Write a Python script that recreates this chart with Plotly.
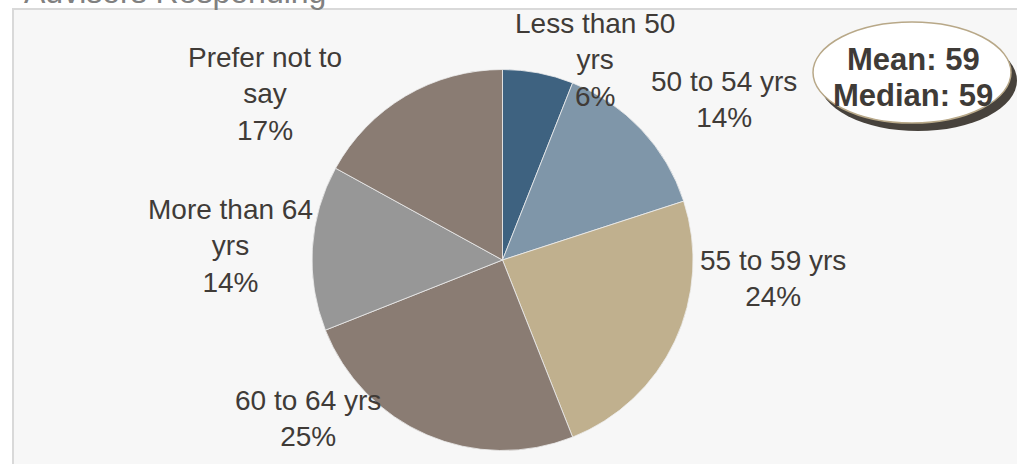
import textwrap
import plotly.graph_objects as go

# Age distribution of responding advisors
categories = ["Less than 50 yrs", "50 to 54 yrs", "55 to 59 yrs",
              "60 to 64 yrs", "More than 64 yrs", "Prefer not to say"]
percent = [6, 14, 24, 25, 14, 17]
colors = ["#3e6280", "#7f96a9", "#c0b08e", "#8a7c73", "#979797", "#8a7c73"]

title_text = "Advisors Responding"
summary_lines = ["Mean: 59", "Median: 59"]

W, H = 1017, 464


def px(x):
    return x / W


def py(y):
    return 1 - y / H


# pie geometry (pixels)
cx, cy, r = 502.5, 260.0, 190.5

# label anchor centres (pixels), one per category
label_pos = [(595, 60), (724, 99), (773, 278), (308, 418), (230, 246), (265, 94)]

fig = go.Figure()
fig.add_trace(go.Pie(
    labels=categories,
    values=percent,
    sort=False,
    direction="clockwise",
    rotation=0,
    marker=dict(colors=colors, line=dict(color="#eeeeee", width=0.8)),
    textinfo="none",
    hoverinfo="label+percent",
    showlegend=False,
    domain=dict(x=[px(cx - r), px(cx + r)], y=[py(cy + r), py(cy - r)]),
))

shapes = [
    # plot panel
    dict(type="rect", xref="paper", yref="paper", layer="below",
         x0=px(13), x1=px(1040), y0=py(490), y1=py(9),
         fillcolor="#f7f7f7", line=dict(color="#d9d9d9", width=2)),
    # summary bubble shadow
    dict(type="circle", xref="paper", yref="paper",
         x0=px(819), x1=px(1017), y0=py(131), y1=py(30),
         fillcolor="#47423c", line=dict(width=0)),
    # summary bubble
    dict(type="circle", xref="paper", yref="paper",
         x0=px(813), x1=px(1011), y0=py(123), y1=py(22),
         fillcolor="#ffffff", line=dict(color="#b8a888", width=1.5)),
]

annotations = []
for name, pct, (lx, ly) in zip(categories, percent, label_pos):
    wrapped = "<br>".join(textwrap.wrap(name, 13))
    annotations.append(dict(
        x=px(lx), y=py(ly), xref="paper", yref="paper",
        text=f"{wrapped}<br>{pct}%", showarrow=False,
        xanchor="center", yanchor="middle", align="center",
        font=dict(family="Liberation Sans, Arial", size=28, color="#403b37"),
    ))

for line, ly in zip(summary_lines, [60, 96]):
    annotations.append(dict(
        x=px(913), y=py(ly), xref="paper", yref="paper",
        text=f"<b>{line}</b>", showarrow=False,
        xanchor="center", yanchor="middle",
        font=dict(family="Liberation Sans, Arial", size=31, color="#3f3b37"),
    ))

annotations.append(dict(
    x=px(22), y=py(-8), xref="paper", yref="paper",
    text=title_text, showarrow=False,
    xanchor="left", yanchor="middle",
    font=dict(family="Liberation Sans, Arial", size=32, color="#808080"),
))

fig.update_layout(
    width=W, height=H,
    margin=dict(l=0, r=0, t=0, b=0),
    paper_bgcolor="#ffffff",
    plot_bgcolor="#ffffff",
    shapes=shapes,
    annotations=annotations,
)

fig.write_html("out.html")
